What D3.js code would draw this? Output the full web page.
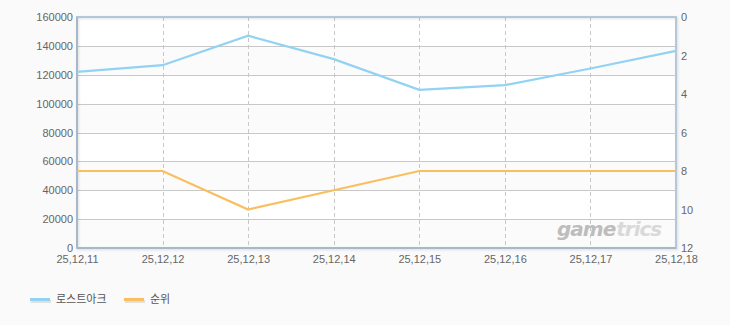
<!DOCTYPE html>
<html>
<head>
<meta charset="utf-8">
<script src="https://cdn.jsdelivr.net/npm/d3@7"></script>
<style>
  body { margin: 0; background: #fafafa; }
  svg { display: block; }
  .axis text { font-family: "Liberation Sans", Arial, sans-serif; font-size: 11px; fill: #666; }
  .wm { font-family: "DejaVu Sans", sans-serif; font-size: 20px; font-weight: bold; font-style: italic; letter-spacing: -1px; }
</style>
</head>
<body>
<div id="chart"></div>
<script>
// data
var dates = ["25,12,11", "25,12,12", "25,12,13", "25,12,14", "25,12,15", "25,12,16", "25,12,17", "25,12,18"];
var lostark = [122000, 126600, 147000, 130800, 109600, 112800, 124300, 136500];
var rank = [8, 8, 10, 9, 8, 8, 8, 8];
var leftTicks = [0, 20000, 40000, 60000, 80000, 100000, 120000, 140000, 160000];
var rightTicks = [0, 2, 4, 6, 8, 10, 12];
var seriesNames = ["로스트아크", "순위"];
var colors = ["#92d2f2", "#fbbe5e"];

var width = 730, height = 325;
var margin = { top: 17, right: 54, bottom: 77, left: 77 };
var w = width - margin.left - margin.right;
var h = height - margin.top - margin.bottom;

var svg = d3.select("#chart").append("svg")
    .attr("width", width)
    .attr("height", height);

var defs = svg.append("defs");
var f = defs.append("filter").attr("id", "sh").attr("x", "-10%").attr("y", "-10%").attr("width", "130%").attr("height", "130%");
f.append("feDropShadow").attr("dx", 1).attr("dy", 1).attr("stdDeviation", 0.8).attr("flood-color", "#000").attr("flood-opacity", 0.12);

var g = svg.append("g").attr("transform", "translate(" + margin.left + "," + margin.top + ")");

var x = d3.scalePoint().domain(dates).range([0, w]);
var y1 = d3.scaleLinear().domain([0, 160000]).range([h, 0]);
var y2 = d3.scaleLinear().domain([0, 12]).range([0, h]);

// plot background with alternating bands
g.append("rect").attr("width", w).attr("height", h).attr("fill", "#ffffff");
g.selectAll(".band")
    .data(leftTicks.slice(0, -1).filter(function(d, i) { return i % 2 == 0; }))
    .enter().append("rect")
    .attr("class", "band")
    .attr("x", 0)
    .attr("y", function(d) { return y1(d + 20000); })
    .attr("width", w)
    .attr("height", function(d) { return y1(d) - y1(d + 20000); })
    .attr("fill", "#fbfbfb");

// horizontal grid
g.selectAll(".hgrid")
    .data(leftTicks.slice(1, -1))
    .enter().append("line")
    .attr("x1", 0).attr("x2", w)
    .attr("y1", function(d) { return Math.round(y1(d)) + 0.5; })
    .attr("y2", function(d) { return Math.round(y1(d)) + 0.5; })
    .attr("stroke", "#c8c8c8");

// vertical grid dashed
g.selectAll(".vgrid")
    .data(dates.slice(1, -1))
    .enter().append("line")
    .attr("x1", function(d) { return Math.round(x(d)) + 0.5; })
    .attr("x2", function(d) { return Math.round(x(d)) + 0.5; })
    .attr("y1", 0).attr("y2", h)
    .attr("stroke", "#c8c8c8")
    .attr("stroke-dasharray", "4,3");

// watermark
var wm1 = g.append("text").attr("class", "wm")
    .attr("x", w - 119).attr("y", h - 12)
    .attr("fill", "#bdbdbd").text("game");
var gw = wm1.node().getComputedTextLength();
g.append("text").attr("class", "wm")
    .attr("x", w - 119 + gw + 1).attr("y", h - 12)
    .attr("fill", "#d9d9d9").text("trics");

// frame
g.append("rect")
    .attr("width", w).attr("height", h)
    .attr("fill", "none")
    .attr("stroke", "#b5c8da")
    .attr("stroke-width", 2)
    .attr("filter", "url(#sh)");
g.append("line").attr("x1", 0).attr("x2", 0).attr("y1", 0).attr("y2", h)
    .attr("stroke", "#a6b8ca").attr("stroke-width", 2);
g.append("line").attr("x1", 0).attr("x2", w).attr("y1", h).attr("y2", h)
    .attr("stroke", "#a6b8ca").attr("stroke-width", 2);

// lines
var line1 = d3.line().x(function(d, i) { return x(dates[i]); }).y(function(d) { return y1(d); });
var line2 = d3.line().x(function(d, i) { return x(dates[i]); }).y(function(d) { return y2(d); });

g.append("path").datum(lostark)
    .attr("d", line1).attr("fill", "none")
    .attr("stroke", colors[0]).attr("stroke-width", 2.2);
g.append("path").datum(rank)
    .attr("d", line2).attr("fill", "none")
    .attr("stroke", colors[1]).attr("stroke-width", 2.2);

// axes
var la = g.append("g").attr("class", "axis")
    .call(d3.axisLeft(y1).tickValues(leftTicks).tickFormat(d3.format("d")).tickSize(0).tickPadding(4));
la.select(".domain").remove();

var ra = g.append("g").attr("class", "axis")
    .attr("transform", "translate(" + w + ",0)")
    .call(d3.axisRight(y2).tickValues(rightTicks).tickSize(0).tickPadding(5));
ra.select(".domain").remove();

var xa = g.append("g").attr("class", "axis")
    .attr("transform", "translate(0," + h + ")")
    .call(d3.axisBottom(x).tickSize(0).tickPadding(7));
xa.select(".domain").remove();

// legend
var legend = svg.append("g").attr("transform", "translate(30,300)");
var items = legend.selectAll(".item")
    .data(seriesNames)
    .enter().append("g")
    .attr("transform", function(d, i) { return "translate(" + (i == 0 ? 0 : 94) + ",0)"; });
items.append("rect")
    .attr("x", 1).attr("y", 0).attr("width", 20).attr("height", 3)
    .attr("fill", "#000").attr("opacity", 0.1);
items.append("rect")
    .attr("x", 0).attr("y", -2).attr("width", 20).attr("height", 3)
    .attr("fill", function(d, i) { return colors[i]; });
items.append("text")
    .attr("x", 26).attr("y", 3)
    .style("font-family", "'Noto Sans CJK KR', sans-serif")
    .style("font-size", "11px")
    .style("fill", "#555")
    .text(function(d) { return d; });
</script>
</body>
</html>
